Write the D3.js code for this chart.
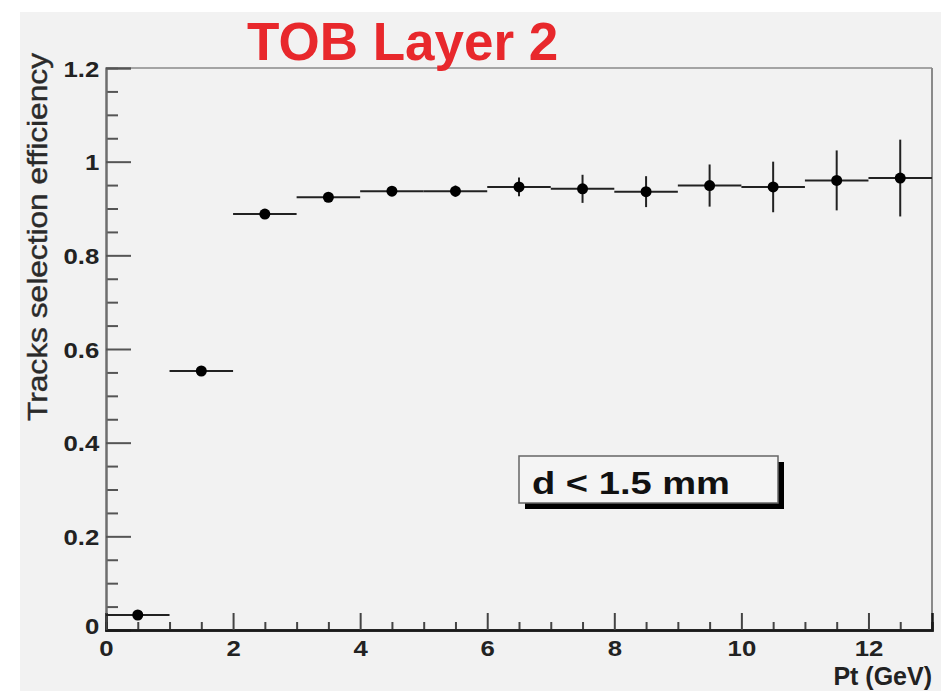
<!DOCTYPE html>
<html>
<head>
<meta charset="utf-8">
<script src="https://cdn.jsdelivr.net/npm/d3@7"></script>
<style>
  body { margin: 0; background: #fff; }
  svg text { font-family: "Liberation Sans", Arial, sans-serif; }
</style>
</head>
<body>
<div id="chart"></div>
<script>
// bin centres (GeV), efficiency and its error
const ptCenters = [0.5, 1.5, 2.5, 3.5, 4.5, 5.5, 6.5, 7.5, 8.5, 9.5, 10.5, 11.5, 12.5];
const binHalfWidth = [0.5, 0.5, 0.5, 0.5, 0.5, 0.5, 0.5, 0.5, 0.5, 0.5, 0.5, 0.5, 0.5];
const efficiency = [0.032, 0.553, 0.888, 0.924, 0.937, 0.937, 0.946, 0.942, 0.936, 0.949, 0.946, 0.960, 0.965];
const effError = [0.004, 0.006, 0.006, 0.008, 0.010, 0.012, 0.020, 0.030, 0.033, 0.045, 0.054, 0.064, 0.082];

const xMajorTicks = [0, 2, 4, 6, 8, 10, 12];
const xMinorTicks = [0.5, 1, 1.5, 2.5, 3, 3.5, 4.5, 5, 5.5, 6.5, 7, 7.5, 8.5, 9, 9.5, 10.5, 11, 11.5, 12.5];
const yMajorTicks = [0, 0.2, 0.4, 0.6, 0.8, 1, 1.2];
const yMinorTicks = [0.05, 0.1, 0.15, 0.25, 0.3, 0.35, 0.45, 0.5, 0.55, 0.65, 0.7, 0.75, 0.85, 0.9, 0.95, 1.05, 1.1, 1.15];

const titleText = "TOB Layer 2";
const xLabel = "Pt (GeV)";
const yLabel = "Tracks selection efficiency";
const boxText = "d < 1.5 mm";

const width = 941, height = 691;
const dim = { left: 106, right: 932, top: 68, bottom: 630 };

const svg = d3.select("#chart").append("svg")
  .attr("width", width)
  .attr("height", height);

// grey canvas
svg.append("rect")
  .attr("x", 20).attr("y", 12)
  .attr("width", width - 20).attr("height", height - 12)
  .attr("fill", "#f2f2f2");

const x = d3.scaleLinear().domain([0, 13]).range([dim.left, dim.right]);
const y = d3.scaleLinear().domain([0, 1.2]).range([dim.bottom, dim.top]);

// frame top / right
svg.append("line")
  .attr("x1", dim.left).attr("x2", dim.right)
  .attr("y1", dim.top).attr("y2", dim.top)
  .attr("stroke", "#8a8a8a").attr("stroke-width", 1.5);
svg.append("line")
  .attr("x1", dim.right).attr("x2", dim.right)
  .attr("y1", dim.top).attr("y2", dim.bottom)
  .attr("stroke", "#8a8a8a").attr("stroke-width", 2);

const fmt = d => String(+d.toFixed(1));

// y axis
const yMinor = svg.append("g")
  .attr("transform", `translate(${dim.left},0)`)
  .call(d3.axisLeft(y).tickValues(yMinorTicks).tickSize(-12).tickFormat(""));
const yMajor = svg.append("g")
  .attr("transform", `translate(${dim.left},0)`)
  .call(d3.axisLeft(y).tickValues(yMajorTicks).tickSize(-25).tickPadding(6).tickFormat(fmt));

[yMinor, yMajor].forEach(g => {
  g.select(".domain").attr("stroke", "#6e6e6e").attr("stroke-width", 2);
  g.selectAll(".tick line").attr("stroke", "#555").attr("stroke-width", 2);
});
// labels look a little stretched sideways in the original
yMajor.selectAll(".tick text")
  .attr("font-size", 23).attr("font-weight", "bold").attr("fill", "#222")
  .attr("dy", "0.36em")
  .attr("transform", "scale(1.12,1)");
yMajor.selectAll(".tick").filter(d => d === 0).select("text")
  .attr("dy", "0.15em");

// x axis
const xMinor = svg.append("g")
  .attr("transform", `translate(0,${dim.bottom})`)
  .call(d3.axisBottom(x).tickValues(xMinorTicks).tickSize(-8).tickFormat(""));
const xMajor = svg.append("g")
  .attr("transform", `translate(0,${dim.bottom})`)
  .call(d3.axisBottom(x).tickValues(xMajorTicks).tickSize(-17).tickPadding(10).tickFormat(fmt));

[xMinor, xMajor].forEach(g => {
  g.select(".domain").attr("stroke", "#1a1a1a").attr("stroke-width", 2.5);
  g.selectAll(".tick line").attr("stroke", "#444").attr("stroke-width", 2);
});
xMajor.selectAll(".tick text")
  .attr("font-size", 23).attr("font-weight", "bold").attr("fill", "#222")
  .attr("transform", "scale(1.12,1)");

// data: horizontal bin bars, vertical error bars, markers
const pts = ptCenters.map((c, i) => ({ c, hw: binHalfWidth[i], v: efficiency[i], e: effError[i] }));
const marks = svg.append("g");

marks.selectAll("line.hbar").data(pts).join("line")
  .attr("class", "hbar")
  .attr("x1", d => x(d.c - d.hw)).attr("x2", d => x(d.c + d.hw))
  .attr("y1", d => y(d.v)).attr("y2", d => y(d.v))
  .attr("stroke", "#222").attr("stroke-width", 2);

marks.selectAll("line.vbar").data(pts).join("line")
  .attr("class", "vbar")
  .attr("x1", d => x(d.c)).attr("x2", d => x(d.c))
  .attr("y1", d => y(d.v - d.e)).attr("y2", d => y(d.v + d.e))
  .attr("stroke", "#222").attr("stroke-width", 2);

marks.selectAll("circle").data(pts).join("circle")
  .attr("cx", d => x(d.c)).attr("cy", d => y(d.v))
  .attr("r", 5.5)
  .attr("fill", "#000");

// title
svg.append("text")
  .attr("x", 247).attr("y", 60)
  .attr("font-size", 53).attr("font-weight", "bold")
  .attr("fill", "#e8282c")
  .text(titleText);

// axis titles
svg.append("text")
  .attr("x", dim.right).attr("y", 685)
  .attr("text-anchor", "end")
  .attr("font-size", 25).attr("font-weight", "bold").attr("fill", "#222")
  .text(xLabel);

svg.append("text")
  .attr("transform", `translate(47,${(52 + 422) / 2}) rotate(-90)`)
  .attr("text-anchor", "middle")
  .attr("font-size", 28).attr("fill", "#2a2a2a")
  .attr("stroke", "#2a2a2a").attr("stroke-width", 0.4)
  .attr("textLength", 368).attr("lengthAdjust", "spacingAndGlyphs")
  .text(yLabel);

// annotation box with shadow
const box = { x: 519, y: 456, w: 259, h: 47, sh: 6 };
svg.append("rect")
  .attr("x", box.x + box.sh).attr("y", box.y + box.sh)
  .attr("width", box.w).attr("height", box.h)
  .attr("fill", "#000");
svg.append("rect")
  .attr("x", box.x).attr("y", box.y)
  .attr("width", box.w).attr("height", box.h)
  .attr("fill", "#f4f4f4").attr("stroke", "#666").attr("stroke-width", 1.5);
svg.append("text")
  .attr("x", 532).attr("y", 494)
  .attr("font-size", 31).attr("font-weight", "bold").attr("fill", "#111")
  .attr("textLength", 198).attr("lengthAdjust", "spacingAndGlyphs")
  .text(boxText);
</script>
</body>
</html>
